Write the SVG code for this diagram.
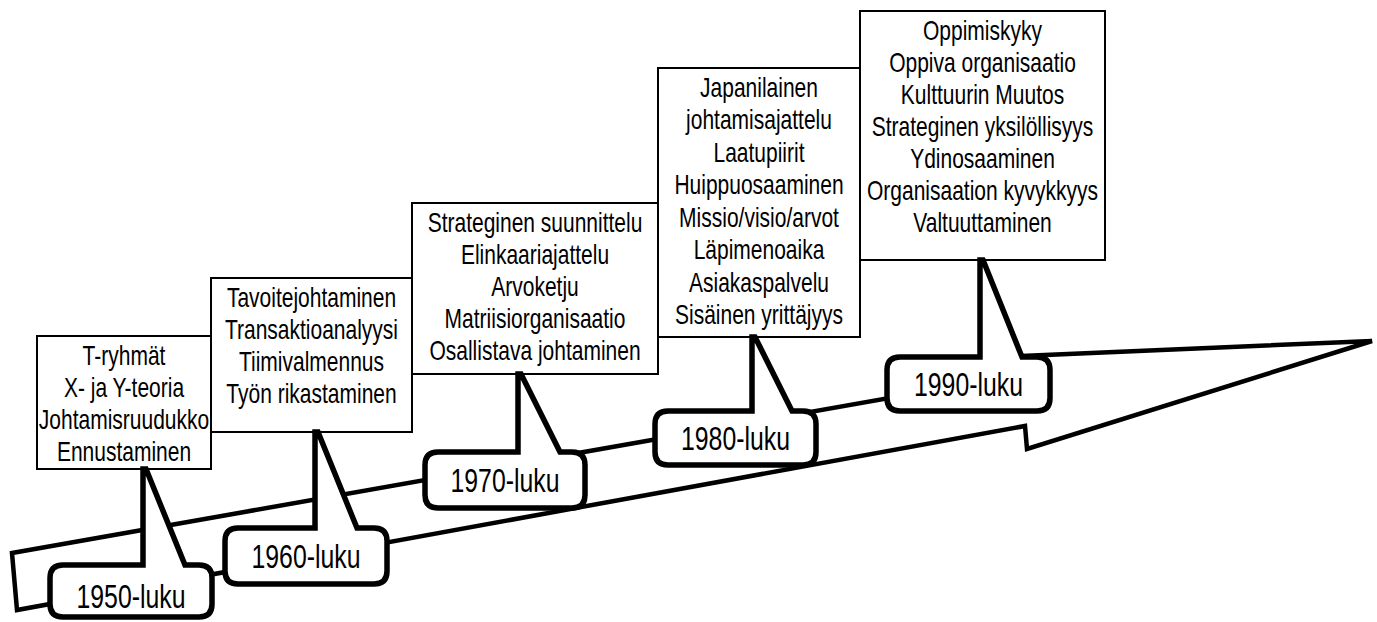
<svg xmlns="http://www.w3.org/2000/svg" width="1377" height="622" viewBox="0 0 1377 622">
<style>
.bg{fill:#fff}
.arrow{fill:#fff;stroke:#000;stroke-width:4.5;stroke-linejoin:miter}
.box{fill:#fff;stroke:#000;stroke-width:2}
.call{fill:#fff;stroke:#000;stroke-width:5.5;stroke-linejoin:miter;stroke-miterlimit:10}
.t{font-family:"Liberation Sans",Arial,sans-serif;font-size:28px;fill:#000;text-anchor:middle}
.ct{font-family:"Liberation Sans",Arial,sans-serif;font-size:34px;fill:#000;text-anchor:middle}
</style>
<rect class="bg" x="0" y="0" width="1377" height="622"/>
<g id="connectors">
<path id="timeline-arrow" class="arrow" d="M12,553 L1000,378.5 L1022,356 L1372,341 L1027,449 L1025,426 L17,610 Z"/>
</g>
<g id="box-1950">
<rect class="box" x="37" y="336" width="174" height="133"/>
<g transform="translate(124 0) scale(0.75 1)">
<text class="t" x="0" y="365">T-ryhmät</text>
<text class="t" x="0" y="397">X- ja Y-teoria</text>
<text class="t" x="0" y="429">Johtamisruudukko</text>
<text class="t" x="0" y="461">Ennustaminen</text>
</g>
</g>
<g id="box-1960">
<rect class="box" x="211" y="278" width="201" height="154"/>
<g transform="translate(311.5 0) scale(0.75 1)">
<text class="t" x="0" y="307">Tavoitejohtaminen</text>
<text class="t" x="0" y="339">Transaktioanalyysi</text>
<text class="t" x="0" y="371">Tiimivalmennus</text>
<text class="t" x="0" y="403">Työn rikastaminen</text>
</g>
</g>
<g id="box-1970">
<rect class="box" x="412" y="203" width="246" height="171"/>
<g transform="translate(535 0) scale(0.75 1)">
<text class="t" x="0" y="232">Strateginen suunnittelu</text>
<text class="t" x="0" y="264">Elinkaariajattelu</text>
<text class="t" x="0" y="296">Arvoketju</text>
<text class="t" x="0" y="328">Matriisiorganisaatio</text>
<text class="t" x="0" y="360">Osallistava johtaminen</text>
</g>
</g>
<g id="box-1980">
<rect class="box" x="658" y="68" width="202" height="269"/>
<g transform="translate(759 0) scale(0.75 1)">
<text class="t" x="0" y="97">Japanilainen</text>
<text class="t" x="0" y="129.5">johtamisajattelu</text>
<text class="t" x="0" y="162">Laatupiirit</text>
<text class="t" x="0" y="194.5">Huippuosaaminen</text>
<text class="t" x="0" y="227">Missio/visio/arvot</text>
<text class="t" x="0" y="259.5">Läpimenoaika</text>
<text class="t" x="0" y="292">Asiakaspalvelu</text>
<text class="t" x="0" y="324.5">Sisäinen yrittäjyys</text>
</g>
</g>
<g id="box-1990">
<rect class="box" x="860" y="11" width="245" height="249"/>
<g transform="translate(982.5 0) scale(0.75 1)">
<text class="t" x="0" y="40">Oppimiskyky</text>
<text class="t" x="0" y="72">Oppiva organisaatio</text>
<text class="t" x="0" y="104">Kulttuurin Muutos</text>
<text class="t" x="0" y="136">Strateginen yksilöllisyys</text>
<text class="t" x="0" y="168">Ydinosaaminen</text>
<text class="t" x="0" y="200">Organisaation kyvykkyys</text>
<text class="t" x="0" y="232">Valtuuttaminen</text>
</g>
</g>
<g id="callout-1950">
<path class="call" d="M63,565 L143,565 L143,469 L146,469 L185,565 L199,565 Q212,565 212,578 L212,604 Q212,617 199,617 L63,617 Q50,617 50,604 L50,578 Q50,565 63,565 Z"/>
<text class="ct" transform="translate(131 608) scale(0.73 1)">1950-luku</text>
</g>
<g id="callout-1960">
<path class="call" d="M238,528 L315,528 L315,432 L318,432 L357,528 L374,528 Q387,528 387,541 L387,571 Q387,584 374,584 L238,584 Q225,584 225,571 L225,541 Q225,528 238,528 Z"/>
<text class="ct" transform="translate(306 568) scale(0.73 1)">1960-luku</text>
</g>
<g id="callout-1970">
<path class="call" d="M438,452 L518,452 L518,374 L521,374 L560,452 L572,452 Q585,452 585,465 L585,495 Q585,508 572,508 L438,508 Q425,508 425,495 L425,465 Q425,452 438,452 Z"/>
<text class="ct" transform="translate(505 492) scale(0.73 1)">1970-luku</text>
</g>
<g id="callout-1980">
<path class="call" d="M668,411 L752,411 L752,337 L755,337 L792,411 L803,411 Q816,411 816,424 L816,452 Q816,465 803,465 L668,465 Q655,465 655,452 L655,424 Q655,411 668,411 Z"/>
<text class="ct" transform="translate(735.5 450) scale(0.73 1)">1980-luku</text>
</g>
<g id="callout-1990">
<path class="call" d="M900,357 L980,357 L980,260 L983,260 L1022,357 L1037,357 Q1050,357 1050,370 L1050,398 Q1050,411 1037,411 L900,411 Q887,411 887,398 L887,370 Q887,357 900,357 Z"/>
<text class="ct" transform="translate(968.5 396) scale(0.73 1)">1990-luku</text>
</g>
</svg>
